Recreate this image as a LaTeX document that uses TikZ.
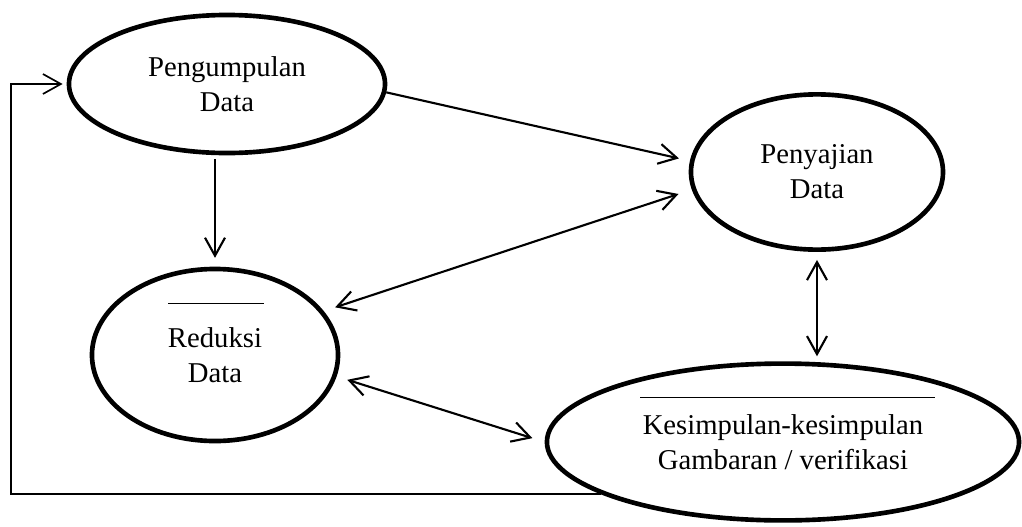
\documentclass[tikz,border=0pt]{standalone}
\usepackage{fontspec}
\setmainfont{Liberation Serif}
\usepackage{tikz}
\usetikzlibrary{arrows.meta,shapes}

\begin{document}
\begin{tikzpicture}[x=0.025cm,y=-0.025cm]
\useasboundingbox (0,0) rectangle (1022,527);
\tikzstyle{block} = [ellipse,draw=black,line width=3.3pt,align=center,font=\fontsize{20.4}{25}\selectfont]
\tikzstyle{edge}=[-{Straight Barb[length=4.5mm,width=5mm]},line width=1.5pt]
\tikzstyle{arrow} = [{Straight Barb[length=4.5mm,width=5mm]}-{Straight Barb[length=4.5mm,width=5mm]},line width=1.5pt]
\node[block,minimum width=7.9cm,minimum height=3.45cm] (E1) at (227,84) {Pengumpulan\\Data};
\node[block,minimum width=6.3cm,minimum height=3.88cm] (E2) at (817,172) {Penyajian\\Data};
\node[block,minimum width=6.15cm,minimum height=4.3cm] (E3) at (215,355) {Reduksi\\Data};
\node[block,minimum width=11.8cm,minimum height=3.92cm] (E4) at (783,442) {Kesimpulan-kesimpulan\\Gambaran / verifikasi};
%\node[below=1cm](E3) {Reduksi};
\draw[line width=0.7pt] (168,303) -- (264,303);
\draw[line width=0.7pt] (640,397) -- (935,397);
\coordinate (C1) at (11,84);
\draw[edge,line width=1.2pt,shorten >=1mm] (E4.196) -| (C1) -- (E1.west);
\draw[edge,shorten >=0.28cm] (E1.-3) -- (E2.175);
\draw[edge,shorten <=0.1cm,shorten >=0.22cm] (E3.north |- E1.south) -- (E3.north);
\draw[arrow,shorten <=0.3cm,shorten >=0.35cm] (E3.22) -- (E2.188);
\draw[arrow,shorten <=0.2cm,shorten >=0.125cm] (E2.south) -- (E2.south |- E4.north);
\draw[arrow,shorten <=0.28cm,shorten >=0.32cm] (E3.-10) -- (E4.west);
\end{tikzpicture}
\end{document}
